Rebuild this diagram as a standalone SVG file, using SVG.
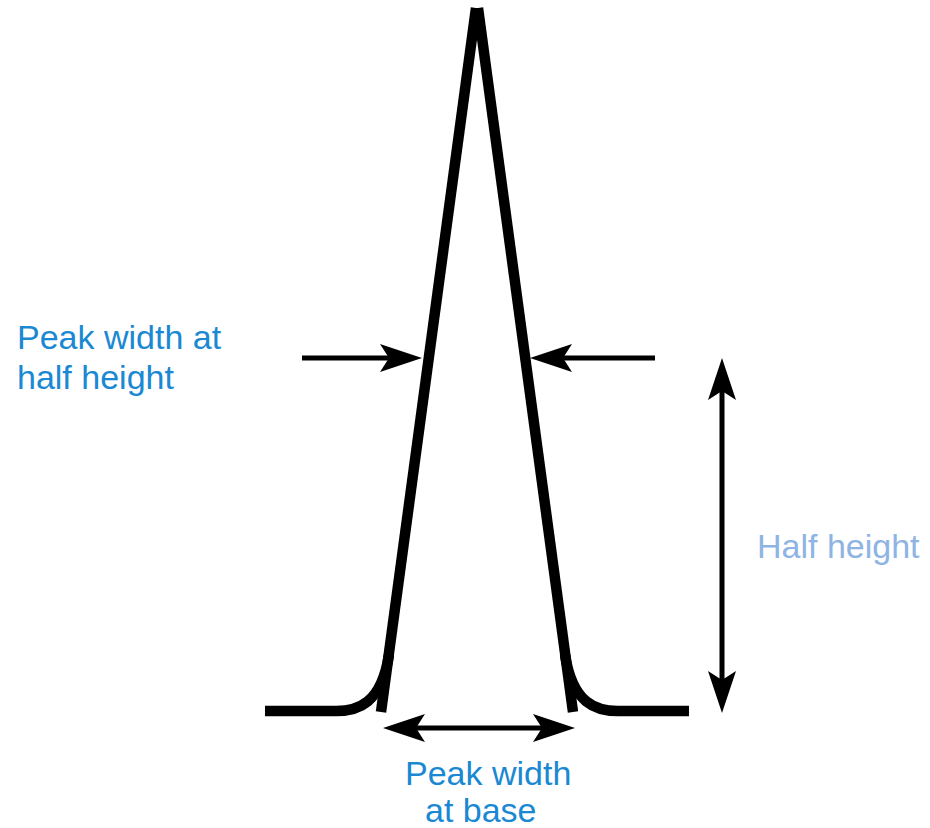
<svg xmlns="http://www.w3.org/2000/svg" xmlns:xlink="http://www.w3.org/1999/xlink" width="930" height="828" viewBox="0 0 930 828">
<style>
.peak{fill:none;stroke:#000;stroke-width:10.5;stroke-linecap:butt;stroke-linejoin:round}
.dim{fill:none;stroke:#000;stroke-width:5}
.ah{fill:#000}
.lbl{font-family:"Liberation Sans",Arial,sans-serif;font-size:34px;fill:#1a88d2}
.lbl2{font-family:"Liberation Sans",Arial,sans-serif;font-size:34px;fill:#8db4e3}
</style>
<defs>
<path id="ah" d="M0,0 L-42,-14 L-33,0 L-42,14 Z"/>
</defs>
<rect width="930" height="828" fill="#fff"/>
<g id="peak">
<path class="peak" d="M476,8 L381,712"/>
<path class="peak" d="M478,8 L573,712"/>
<path class="peak" d="M265,711 H336 C358,711 381,704 389,655"/>
<path class="peak" d="M689,711 H618 C596,711 573,704 565,655"/>
</g>
<g id="connectors">
<path class="dim" d="M302,358 H396"/>
<use href="#ah" class="ah" transform="translate(422,358)"/>
<path class="dim" d="M655,358 H556"/>
<use href="#ah" class="ah" transform="translate(530,358) rotate(180)"/>
<path class="dim" d="M722,388 V683"/>
<use href="#ah" class="ah" transform="translate(722,358) rotate(-90)"/>
<use href="#ah" class="ah" transform="translate(722,713) rotate(90)"/>
<path class="dim" d="M410,728 H548"/>
<use href="#ah" class="ah" transform="translate(383,728) rotate(180)"/>
<use href="#ah" class="ah" transform="translate(575,728)"/>
</g>
<g id="label-half-width">
<text class="lbl" x="17" y="349">Peak width at</text>
<text class="lbl" x="17" y="389">half height</text>
</g>
<g id="label-half-height">
<text class="lbl2" x="757" y="558">Half height</text>
</g>
<g id="label-base-width">
<text class="lbl" x="405" y="785">Peak width</text>
<text class="lbl" x="425" y="822">at base</text>
</g>
</svg>
